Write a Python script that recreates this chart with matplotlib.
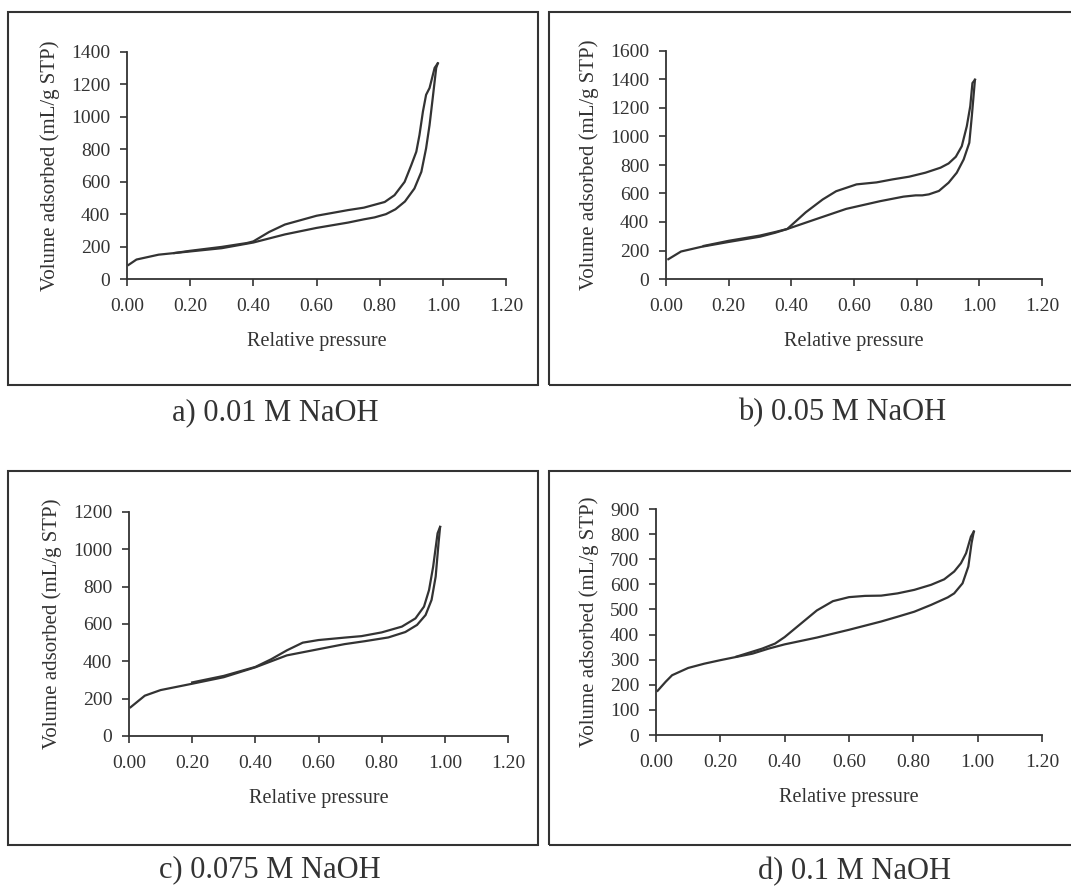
import matplotlib
matplotlib.use('Agg')
import matplotlib.pyplot as plt
from matplotlib.patches import Rectangle

plt.rcParams['font.family'] = ['Liberation Serif', 'DejaVu Serif']

# a) 0.01 M NaOH  (adsorption branch, then desorption branch)
a_ads_x = [0.005, 0.03, 0.1, 0.2, 0.3, 0.4, 0.5, 0.6, 0.7, 0.75, 0.784, 0.82, 0.85, 0.88, 0.91, 0.932, 0.947, 0.958, 0.968, 0.979, 0.984]
a_ads_y = [87, 120, 150, 170, 190, 225, 275, 315, 348, 368, 380, 400, 430, 478, 558, 661, 806, 950, 1116, 1302, 1330]
a_des_x = [0.984, 0.974, 0.958, 0.947, 0.937, 0.926, 0.916, 0.9, 0.879, 0.847, 0.816, 0.784, 0.75, 0.7, 0.6, 0.55, 0.5, 0.45, 0.4, 0.38, 0.3, 0.2, 0.15]
a_des_y = [1330, 1302, 1178, 1136, 1033, 888, 785, 702, 599, 517, 475, 458, 440, 425, 390, 363, 336, 290, 232, 222, 198, 174, 160]

# b) 0.05 M NaOH
b_ads_x = [0.0075, 0.048, 0.113, 0.2, 0.3, 0.349, 0.387, 0.468, 0.575, 0.683, 0.758, 0.797, 0.818, 0.839, 0.871, 0.902, 0.928, 0.95, 0.968, 0.976, 0.986]
b_ads_y = [139, 193, 226, 260, 297, 325, 351, 412, 492, 546, 578, 587, 587, 594, 618, 676, 746, 839, 956, 1142, 1398]
b_des_x = [0.986, 0.978, 0.971, 0.96, 0.944, 0.925, 0.902, 0.876, 0.828, 0.776, 0.723, 0.672, 0.608, 0.543, 0.5, 0.446, 0.387, 0.349, 0.3, 0.2, 0.12]
b_des_y = [1398, 1375, 1212, 1072, 932, 858, 811, 781, 746, 718, 699, 678, 664, 616, 558, 468, 351, 330, 305, 268, 232]

# c) 0.075 M NaOH
c_ads_x = [0.005, 0.05, 0.1, 0.2, 0.3, 0.4, 0.45, 0.5, 0.6, 0.682, 0.747, 0.821, 0.875, 0.912, 0.939, 0.958, 0.971, 0.98, 0.985]
c_ads_y = [154, 216, 246, 280, 315, 368, 400, 432, 465, 492, 508, 528, 557, 595, 648, 729, 854, 1032, 1120]
c_des_x = [0.985, 0.977, 0.963, 0.95, 0.934, 0.907, 0.864, 0.8, 0.736, 0.682, 0.6, 0.55, 0.5, 0.45, 0.4, 0.3, 0.2]
c_des_y = [1120, 1086, 907, 782, 693, 630, 586, 555, 535, 527, 514, 500, 459, 411, 370, 322, 287]

# d) 0.1 M NaOH
d_ads_x = [0.005, 0.03, 0.05, 0.1, 0.15, 0.2, 0.3, 0.35, 0.4, 0.5, 0.6, 0.7, 0.751, 0.803, 0.855, 0.907, 0.927, 0.953, 0.971, 0.981, 0.988]
d_ads_y = [176, 212, 238, 267, 284, 298, 324, 344, 361, 388, 419, 452, 471, 491, 518, 548, 564, 604, 671, 764, 810]
d_des_x = [0.988, 0.979, 0.964, 0.948, 0.927, 0.896, 0.855, 0.803, 0.751, 0.7, 0.65, 0.6, 0.55, 0.5, 0.45, 0.4, 0.37, 0.33, 0.25]
d_des_y = [810, 790, 724, 684, 651, 620, 598, 578, 564, 555, 554, 549, 533, 496, 443, 390, 364, 344, 312]

panels = [
    ('a) 0.01 M NaOH', a_ads_x, a_ads_y, a_des_x, a_des_y, 1400, 200),
    ('b) 0.05 M NaOH', b_ads_x, b_ads_y, b_des_x, b_des_y, 1600, 200),
    ('c) 0.075 M NaOH', c_ads_x, c_ads_y, c_des_x, c_des_y, 1200, 200),
    ('d) 0.1 M NaOH', d_ads_x, d_ads_y, d_des_x, d_des_y, 900, 100),
]

W, H = 1071, 886
fig = plt.figure(figsize=(W / 100, H / 100), dpi=100)

# pixel layout: axes (x0, x1, ytop, ybottom), box (x0, x1, ytop, ybottom), caption (x, y)
axes_px = [(127, 506, 52, 279), (666, 1042, 51, 279), (129, 508, 512, 736), (656, 1042, 509, 735)]
box_px = [(8, 538, 12, 385), (549, 1075, 12, 385), (8, 538, 471, 845), (549, 1075, 471, 845)]
cap_px = [(275, 413), (842, 413), (270, 870), (855, 872)]

ink = '#333333'
for i, (cap, ax_x, ax_y, de_x, de_y, ymax, ystep) in enumerate(panels):
    bx0, bx1, by0, by1 = box_px[i]
    fig.patches.append(Rectangle((bx0 / W, 1 - by1 / H), (bx1 - bx0) / W, (by1 - by0) / H,
                                 transform=fig.transFigure, fill=False, ec=ink, lw=1.5))
    x0, x1, y0, y1 = axes_px[i]
    ax = fig.add_axes([x0 / W, 1 - y1 / H, (x1 - x0) / W, (y1 - y0) / H])
    ax.plot(ax_x, ax_y, color=ink, lw=1.6)
    ax.plot(de_x, de_y, color=ink, lw=1.6)
    ax.set_xlim(0, 1.2)
    ax.set_ylim(0, ymax)
    ax.set_xticks([0, 0.2, 0.4, 0.6, 0.8, 1.0, 1.2])
    ax.set_xticklabels(['0.00', '0.20', '0.40', '0.60', '0.80', '1.00', '1.20'])
    ax.set_yticks(range(0, ymax + 1, ystep))
    for s in ['top', 'right']:
        ax.spines[s].set_visible(False)
    for s in ['left', 'bottom']:
        ax.spines[s].set_color(ink)
        ax.spines[s].set_linewidth(1.3)
    ax.tick_params(direction='out', length=5, width=1.2, colors=ink, labelsize=14, pad=7)
    ax.tick_params(axis='x', pad=9)
    ax.set_xlabel('Relative pressure', fontsize=14.5, color=ink, labelpad=12)
    ax.set_ylabel('Volume adsorbed (mL/g STP)', fontsize=15, color=ink, labelpad=8)
    fig.text(cap_px[i][0] / W, 1 - cap_px[i][1] / H, cap, fontsize=22, color=ink,
             ha='center', va='center')

fig.savefig('out.png', dpi=100)
